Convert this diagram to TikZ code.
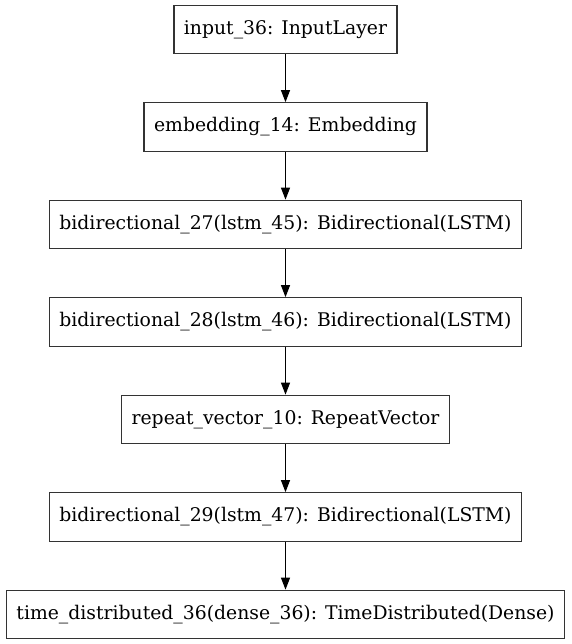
\documentclass[tikz,border=0pt]{standalone}
\usepackage{fontspec}
\setmainfont{DejaVu Serif}
\usetikzlibrary{arrows.meta, positioning}

\begin{document}
\begin{tikzpicture}[
        x=1pt, y=1pt,
        node distance=47.8pt,
        layer/.style={rectangle, draw=black!80, line width=1.2pt, minimum height=48.5pt, inner xsep=10pt, font=\fontsize{18.8}{22}\selectfont},
        every edge/.style={draw, line width=1.1pt, -{Triangle[length=12pt, width=9pt]}}
    ]
    \useasboundingbox (0,0) rectangle (571,-644);

    \node[layer] (input) at (285.5,-29.5) {input\_36: InputLayer};
    \node[layer, below=of input] (embed) {embedding\_14: Embedding};
    \node[layer, below=of embed] (bidir1) {bidirectional\_27(lstm\_45): Bidirectional(LSTM)};
    \node[layer, below=of bidir1] (bidir2) {bidirectional\_28(lstm\_46): Bidirectional(LSTM)};
    \node[layer, below=of bidir2] (repeat) {repeat\_vector\_10: RepeatVector};
    \node[layer, below=of repeat] (bidir3) {bidirectional\_29(lstm\_47): Bidirectional(LSTM)};
    \node[layer, below=of bidir3] (timedist) {time\_distributed\_36(dense\_36): TimeDistributed(Dense)};

    \draw (input) edge (embed);
    \draw (embed) edge (bidir1);
    \draw (bidir1) edge (bidir2);
    \draw (bidir2) edge (repeat);
    \draw (repeat) edge (bidir3);
    \draw (bidir3) edge (timedist);

\end{tikzpicture}
\end{document}
